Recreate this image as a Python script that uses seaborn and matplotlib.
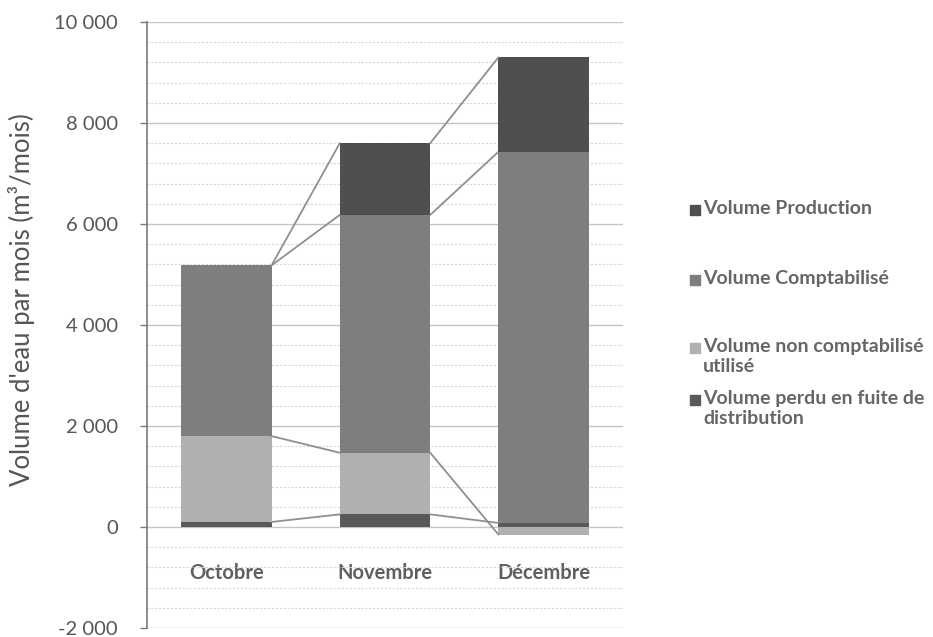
import numpy as np
import pandas as pd
import matplotlib.pyplot as plt
import seaborn as sns
from matplotlib.patches import Rectangle
from matplotlib.ticker import MultipleLocator, FuncFormatter

sns.set_theme(style="white")
plt.rcParams['font.family'] = ['Lato', 'DejaVu Sans']

# data (m3 / month), stacked bottom -> top
months = ['Octobre', 'Novembre', 'Décembre']
perdu = [100, 250, 80]
non_compta = [1700, 1220, -150]
compta = [3380, 4710, 7350]
production = [0, 1420, 1870]

labels = ['Volume perdu en fuite de\ndistribution',
          'Volume non comptabilisé\nutilisé',
          'Volume Comptabilisé',
          'Volume Production']
colors = ['#595959', '#b0b0b0', '#7e7e7e', '#4f4f4f']

fig = plt.figure(figsize=(9.33, 6.37), dpi=100)
ax = fig.add_axes([147 / 933, 9 / 637, 476 / 933, 606 / 637])

w = 0.57
pos = np.zeros(len(months))
neg = np.zeros(len(months))
for vals, col in zip([perdu, non_compta, compta, production], colors):
    vals = np.array(vals, dtype=float)
    bottom = np.where(vals >= 0, pos, neg)
    sns.barplot(x=months, y=vals, bottom=bottom, color=col, width=w,
                saturation=1, errorbar=None, linewidth=0, ax=ax)
    tops = bottom + vals
    # series lines between bars
    for i in range(len(months) - 1):
        ax.plot([i + w / 2, i + 1 - w / 2], [tops[i], tops[i + 1]],
                color='#8f8f8f', lw=1.3, zorder=1)
    pos = np.where(vals >= 0, tops, pos)
    neg = np.where(vals < 0, tops, neg)

ax.set_ylim(-2000, 10000)
ax.set_xlim(-0.5, 2.5)
ax.yaxis.set_major_locator(MultipleLocator(2000))
ax.yaxis.set_minor_locator(MultipleLocator(400))
ax.yaxis.set_major_formatter(FuncFormatter(lambda v, p: f"{int(v):,}".replace(',', ' ')))
ax.grid(axis='y', which='major', color='#c4c4c4', lw=1.0)
ax.grid(axis='y', which='minor', color='#d6d6d6', lw=0.8, ls=(0, (2, 1.5)))
ax.set_axisbelow(True)

for s in ['top', 'right']:
    ax.spines[s].set_visible(False)
ax.spines['left'].set_color('#7a7a7a')
ax.spines['left'].set_linewidth(1.2)
ax.spines['bottom'].set_position(('data', 0))
ax.spines['bottom'].set_visible(False)

ax.tick_params(axis='y', which='major', left=True, length=5, width=1, color='#7a7a7a',
               pad=16, labelsize=14.5, labelcolor='#555555')
ax.tick_params(axis='x', length=0, pad=26, labelsize=14.5, labelcolor='#5f5f5f')
for t in ax.get_xticklabels():
    t.set_fontweight('bold')
ax.set_xlabel('')
ax.set_ylabel('')

fig.text(22 / 933, 1 - 300 / 637, "Volume d'eau par mois (m³/mois)", rotation=90,
         ha='center', va='center', fontsize=18.5, color='#555555')

# legend, drawn top -> bottom
leg_y = [210, 280, 348, 400]
for lab, col, y in zip(labels[::-1], colors[::-1], leg_y):
    fig.patches.append(Rectangle((690 / 933, 1 - (y + 5) / 637), 10 / 933, 10 / 637,
                                 transform=fig.transFigure, color=col))
    fig.text(703 / 933, 1 - (y - 10) / 637, lab, ha='left', va='top', fontsize=14,
             fontweight='bold', color='#666666', linespacing=1.2)

fig.savefig('out.png', dpi=100)
